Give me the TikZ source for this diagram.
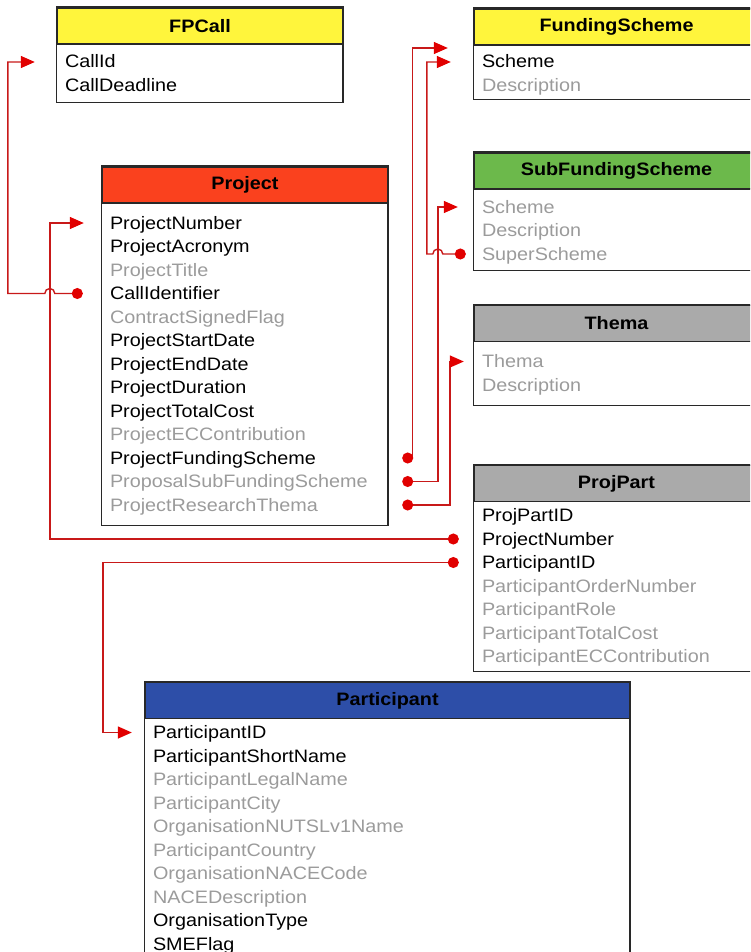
\documentclass[tikz,border=0pt]{standalone}
\usepackage{fontspec}
\setmainfont{Liberation Sans}[FakeStretch=1.1]
\usepackage{tikz}
\usepackage{xcolor}
\usetikzlibrary{positioning, arrows.meta}

\definecolor{boxline}{RGB}{40,40,40}
\definecolor{attrgray}{RGB}{155,155,155}
\definecolor{hdryellow}{RGB}{255,245,60}
\definecolor{hdrred}{RGB}{250,65,30}
\definecolor{hdrgreen}{RGB}{108,185,75}
\definecolor{hdrgray}{RGB}{170,170,170}
\definecolor{hdrblue}{RGB}{45,78,168}
\definecolor{linkred}{RGB}{200,25,25}
\definecolor{tipred}{RGB}{225,0,0}

\newcommand\tabfont{\fontsize{18pt}{22pt}\selectfont}

\tikzset{
    tablehead/.style={draw=boxline, line width=1.5pt, font=\tabfont\bfseries,
        minimum width=#1, minimum height=36pt, inner sep=0pt},
    field/.style={text width=#1, inner xsep=8pt, inner ysep=0pt, minimum height=23.1pt,
        text height=15pt, text depth=3pt, align=left, font=\tabfont},
    dimfield/.style={field=#1, text=attrgray},
    tableframe/.style={draw=boxline, line width=1.5pt},
    link/.style={draw=linkred, line width=1.4pt,
        arrows={Circle[length=11pt, color=tipred]-Triangle[length=14pt, width=12pt, color=tipred]}}
}

\begin{document}
\begin{tikzpicture}[x=1pt, y=1pt, node distance=0pt]
    \useasboundingbox (0,0) rectangle (750,-952);
    \clip (0,0) rectangle (750,-952);

    % FPCall
    \node[tablehead=286pt, fill=hdryellow] (fp-head) at (200,-26) {FPCall};
    \node[field=270pt] (fp-id) [below=5.5pt of fp-head] {CallId};
    \node[field=270pt] (fp-dl) [below=of fp-id] {CallDeadline};
    \draw[tableframe] (fp-head.north west) rectangle ([yshift=-5.5pt]fp-dl.south east);

    % FundingScheme
    \node[tablehead=285pt, fill=hdryellow] (fs-head) at (616.5,-27) {FundingScheme};
    \node[field=269pt] (fs-scheme) [below=4.5pt of fs-head] {Scheme};
    \node[dimfield=269pt] (fs-desc) [below=of fs-scheme] {Description};
    \draw[tableframe] (fs-head.north west) rectangle ([yshift=-2.5pt]fs-desc.south east);

    % SubFundingScheme
    \node[tablehead=285pt, fill=hdrgreen] (sf-head) at (616.5,-171) {SubFundingScheme};
    \node[dimfield=269pt] (sf-scheme) [below=5.5pt of sf-head] {Scheme};
    \node[dimfield=269pt] (sf-desc) [below=of sf-scheme] {Description};
    \node[dimfield=269pt] (sf-super) [below=of sf-desc] {SuperScheme};
    \draw[tableframe] (sf-head.north west) rectangle ([yshift=-4.5pt]sf-super.south east);

    % Thema
    \node[tablehead=285pt, fill=hdrgray] (th-head) at (616.5,-323.5) {Thema};
    \node[dimfield=269pt] (th-thema) [below=7.5pt of th-head] {Thema};
    \node[dimfield=269pt] (th-desc) [below=of th-thema] {Description};
    \draw[tableframe] (th-head.north west) rectangle ([yshift=-8.5pt]th-desc.south east);

    % Project
    \node[tablehead=286pt, fill=hdrred] (pr-head) at (245,-185) {Project};
    \node[field=270pt] (pr-num) [below=7.5pt of pr-head] {ProjectNumber};
    \node[field=270pt] (pr-acr) [below=of pr-num] {ProjectAcronym};
    \node[dimfield=270pt] (pr-title) [below=of pr-acr] {ProjectTitle};
    \node[field=270pt] (pr-call) [below=of pr-title] {CallIdentifier};
    \node[dimfield=270pt] (pr-signed) [below=of pr-call] {ContractSignedFlag};
    \node[field=270pt] (pr-start) [below=of pr-signed] {ProjectStartDate};
    \node[field=270pt] (pr-end) [below=of pr-start] {ProjectEndDate};
    \node[field=270pt] (pr-dur) [below=of pr-end] {ProjectDuration};
    \node[field=270pt] (pr-cost) [below=of pr-dur] {ProjectTotalCost};
    \node[dimfield=270pt] (pr-ec) [below=of pr-cost] {ProjectECContribution};
    \node[field=270pt] (pr-fund) [below=of pr-ec] {ProjectFundingScheme};
    \node[dimfield=270pt] (pr-sub) [below=of pr-fund] {ProposalSubFundingScheme};
    \node[dimfield=270pt] (pr-thema) [below=of pr-sub] {ProjectResearchThema};
    \draw[tableframe] (pr-head.north west) rectangle ([yshift=-8.5pt]pr-thema.south east);

    % ProjPart
    \node[tablehead=285pt, fill=hdrgray] (pp-head) at (616.5,-483.5) {ProjPart};
    \node[field=269pt] (pp-id) [below=1.5pt of pp-head] {ProjPartID};
    \node[field=269pt] (pp-num) [below=of pp-id] {ProjectNumber};
    \node[field=269pt] (pp-pid) [below=of pp-num] {ParticipantID};
    \node[dimfield=269pt] (pp-order) [below=of pp-pid] {ParticipantOrderNumber};
    \node[dimfield=269pt] (pp-role) [below=of pp-order] {ParticipantRole};
    \node[dimfield=269pt] (pp-cost) [below=of pp-role] {ParticipantTotalCost};
    \node[dimfield=269pt] (pp-ec) [below=of pp-cost] {ParticipantECContribution};
    \draw[tableframe] (pp-head.north west) rectangle ([yshift=-3pt]pp-ec.south east);

    % Participant
    \node[tablehead=485pt, fill=hdrblue] (pa-head) at (387.5,-700.5) {Participant};
    \node[field=469pt] (pa-id) [below=1.5pt of pa-head] {ParticipantID};
    \node[field=469pt] (pa-short) [below=of pa-id] {ParticipantShortName};
    \node[dimfield=469pt] (pa-legal) [below=of pa-short] {ParticipantLegalName};
    \node[dimfield=469pt] (pa-city) [below=of pa-legal] {ParticipantCity};
    \node[dimfield=469pt] (pa-nuts) [below=of pa-city] {OrganisationNUTSLv1Name};
    \node[dimfield=469pt] (pa-country) [below=of pa-nuts] {ParticipantCountry};
    \node[dimfield=469pt] (pa-nace) [below=of pa-country] {OrganisationNACECode};
    \node[dimfield=469pt] (pa-desc) [below=of pa-nace] {NACEDescription};
    \node[field=469pt] (pa-type) [below=of pa-desc] {OrganisationType};
    \node[field=469pt] (pa-sme) [below=of pa-type] {SMEFlag};
    \draw[tableframe] (pa-head.north west) rectangle ([yshift=-8pt]pa-sme.south east);

    % foreign keys
    \draw[link] ([xshift=-19pt]pr-call.west) -- ([xshift=-47pt]pr-call.west)
        arc[start angle=0, end angle=180, radius=5pt]
        -- ([xshift=-94pt]pr-call.west) |- ([xshift=-22pt]fp-id.west);
    \draw[link] ([xshift=-15pt]pp-num.west) -| ([xshift=-52pt]pr-num.west)
        -- ([xshift=-18pt]pr-num.west);
    \draw[link] ([xshift=14pt]pr-fund.east) -- ([xshift=24pt]pr-fund.east)
        |- ([xshift=-26pt, yshift=14pt]fs-scheme.west);
    \draw[link] ([xshift=-8pt]sf-super.west) -- ([xshift=-31pt]sf-super.west)
        arc[start angle=0, end angle=180, radius=5pt]
        -| ([xshift=-47pt]fs-scheme.west) -- ([xshift=-23pt]fs-scheme.west);
    \draw[link] ([xshift=14pt]pr-sub.east) -| ([xshift=-36pt]sf-scheme.west)
        -- ([xshift=-16pt]sf-scheme.west);
    \draw[link] ([xshift=14pt]pr-thema.east) -| ([xshift=-24pt]th-thema.west)
        -- ([xshift=-10pt]th-thema.west);
    \draw[link] ([xshift=-15pt]pp-pid.west) -| ([xshift=-42pt]pa-id.west)
        -- ([xshift=-13pt]pa-id.west);
\end{tikzpicture}
\end{document}
